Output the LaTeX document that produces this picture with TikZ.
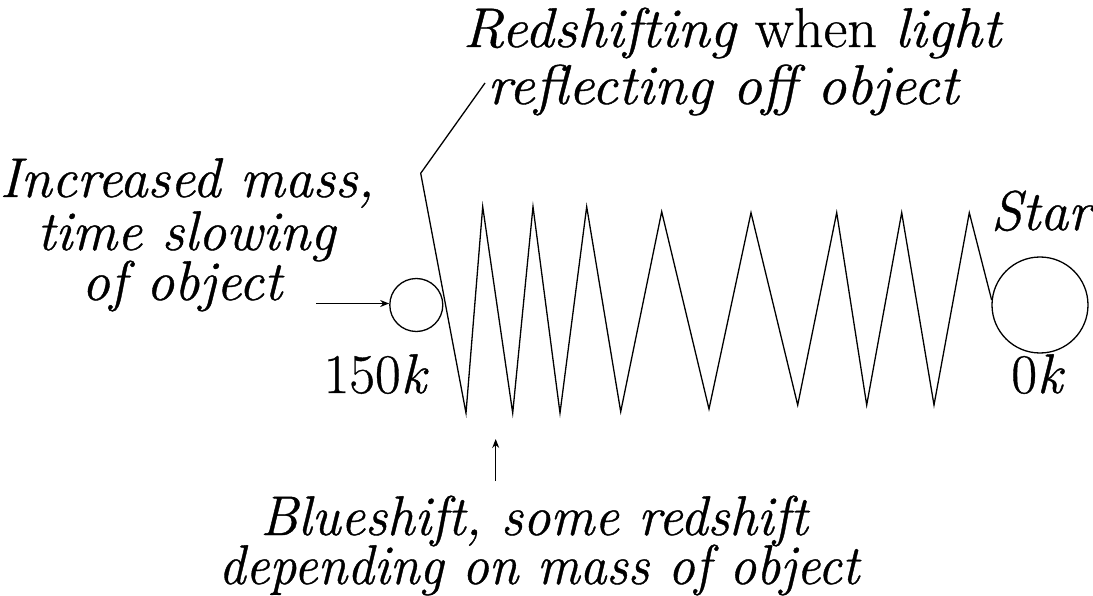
\documentclass[tikz,border=0pt]{standalone}
\usepackage{fontspec}
\usepackage{graphicx}
\newfontfamily\lmh{Latin Modern Roman}[FakeBold=0.7,ItalicFeatures={FakeBold=0.7}]
\usetikzlibrary{arrows.meta}
\newcommand{\wdn}[2]{\scalebox{#1}[1]{#2}}
\begin{document}
\begin{tikzpicture}[x=1pt,y=-1pt,
  txt/.style={inner sep=0pt,anchor=base,font=\lmh\fontsize{56}{60}\selectfont},
  ball/.style={draw,circle,line width=1.3pt,inner sep=0pt},
  wire/.style={line width=1.3pt,line join=miter},
  arr/.style={line width=1.3pt,-{Stealth[length=9pt,width=7pt]}}]
\useasboundingbox (0,0) rectangle (1093,596);
% texts
\node[txt] (r1) at (733,47) {\wdn{1.04}{\textit{Redshifting} when \textit{light}}};
\node[txt] (r2) at (724,104) {\wdn{1.04}{\textit{reflecting off object}}};
\node[txt] (i1) at (187,197) {\textit{Increased mass,}};
\node[txt] (i2) at (187,250) {\textit{time slowing}};
\node[txt] (i3) at (183,300) {\textit{of object}};
\node[txt] (k150) at (376,393) {150\textit{k}};
\node[txt] (k0) at (1038,393) {0\textit{k}};
\node[txt] (startxt) at (1043,230) {\textit{Star}};
\node[txt] (b1) at (535,535) {\wdn{0.98}{\textit{Blueshift, some redshift}}};
\node[txt] (b2) at (540,584) {\wdn{0.955}{\textit{depending on mass of object}}};
% bodies
\node[ball,minimum size=53pt] (obj) at (416.3,305) {};
\node[ball,minimum size=96pt] (star) at (1040,305) {};
% wave
\coordinate (c0) at (485,83);
\draw[wire] (c0) -- (420.7,173.3) -- (466,413) -- (482.7,206.7) -- (512.7,413)
  -- (533,206.7) -- (560,413) -- (586.7,206.7) -- (620.7,411.7) -- (661.7,211.7)
  -- (709,409) -- (751,212.7) -- (797.7,405) -- (836.7,212.7) -- (866.7,405)
  -- (901.7,212.7) -- (934,405) -- (969.3,212.7) -- (star.174);
% arrows
\coordinate (a0) at (316,303.5);
\draw[arr] (a0) -- (obj.west|-a0);
\coordinate (u0) at (495.7,481);
\coordinate (u1) at (495.7,439);
\draw[arr] (u0) -- (u1);
\end{tikzpicture}
\end{document}
